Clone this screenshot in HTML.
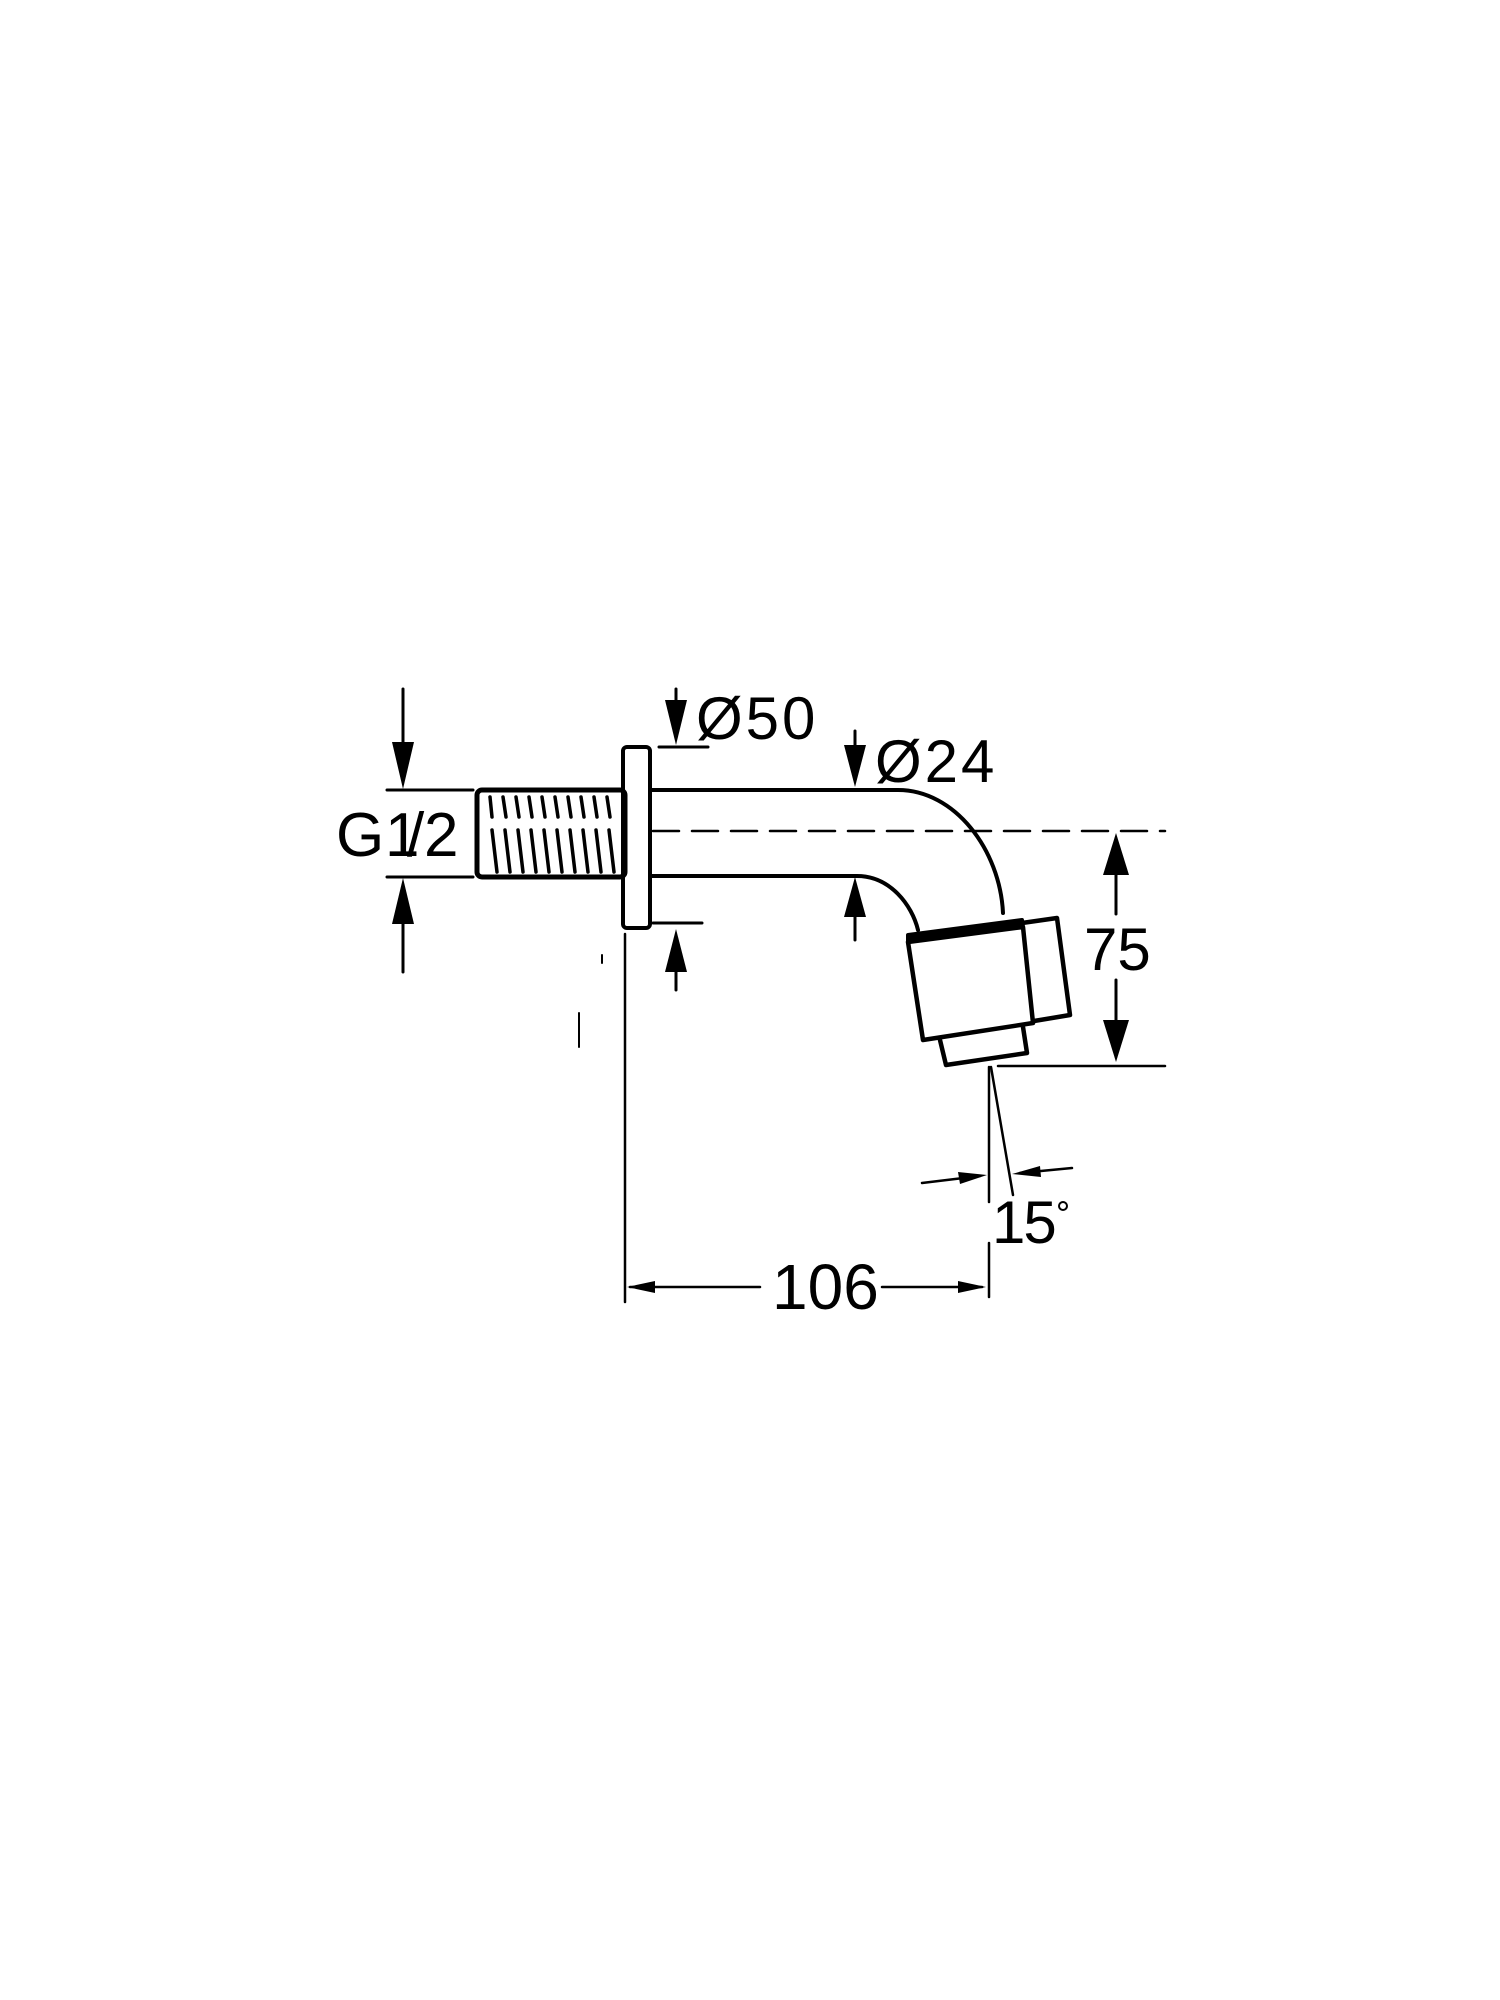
<!DOCTYPE html>
<html><head><meta charset="utf-8"><style>
html,body{margin:0;padding:0;background:#fff;}
svg{display:block;}
text{font-family:"Liberation Sans",sans-serif;fill:#000;}
</style></head><body>
<svg width="1500" height="2000" viewBox="0 0 1500 2000" xmlns="http://www.w3.org/2000/svg">
<g stroke="#000" fill="none" stroke-linecap="round" stroke-linejoin="round">
  <line x1="403" y1="689" x2="403" y2="760" stroke-width="3"/>
  <line x1="403" y1="905" x2="403" y2="972" stroke-width="3"/>
  <line x1="387" y1="790" x2="473" y2="790" stroke-width="3"/>
  <line x1="387" y1="877" x2="473" y2="877" stroke-width="3"/>
  <rect x="477" y="790" width="148" height="87" rx="5" stroke-width="5"/>
  <g stroke-width="3.5">
    <line x1="490" y1="797" x2="492" y2="817"/><line x1="503" y1="797" x2="506" y2="817"/>
    <line x1="516" y1="797" x2="519" y2="817"/><line x1="529" y1="797" x2="532" y2="817"/>
    <line x1="542" y1="797" x2="545" y2="817"/><line x1="555" y1="797" x2="558" y2="817"/>
    <line x1="568" y1="797" x2="571" y2="817"/><line x1="581" y1="797" x2="584" y2="817"/>
    <line x1="594" y1="797" x2="597" y2="817"/><line x1="607" y1="797" x2="610" y2="817"/>
    <line x1="492" y1="830" x2="497" y2="872"/><line x1="505" y1="830" x2="510" y2="872"/>
    <line x1="518" y1="830" x2="523" y2="872"/><line x1="531" y1="830" x2="536" y2="872"/>
    <line x1="544" y1="830" x2="549" y2="872"/><line x1="557" y1="830" x2="562" y2="872"/>
    <line x1="570" y1="830" x2="575" y2="872"/><line x1="583" y1="830" x2="588" y2="872"/>
    <line x1="596" y1="830" x2="601" y2="872"/><line x1="609" y1="830" x2="614" y2="872"/>
  </g>
  <rect x="623" y="747" width="27" height="181" rx="4" stroke-width="4"/>
  <path d="M650 790 L898 790 C955 790 1000 850 1003 913" stroke-width="4"/>
  <path d="M650 876 L857 876 C890 876 912 905 918 930" stroke-width="4"/>
  <line x1="653" y1="831" x2="1165" y2="831" stroke-width="2.5" stroke-dasharray="26,13"/>
  <path d="M908 935 L1022 920 L1023 927 L908 943 Z" stroke-width="4" fill="#000"/>
  <path d="M908 942 L1023 927 L1033 1023 L923 1040 Z" stroke-width="4.5" fill="#fff"/>
  <path d="M1022 923 L1057 918 L1070 1015 L1034 1021" stroke-width="4.5"/>
  <path d="M940 1040 L946 1065 L1027 1053 L1023 1027" stroke-width="4.5"/>
  <line x1="676" y1="689" x2="676" y2="710" stroke-width="3"/>
  <line x1="659" y1="747" x2="708" y2="747" stroke-width="3"/>
  <line x1="653" y1="923" x2="702" y2="923" stroke-width="3"/>
  <line x1="676" y1="960" x2="676" y2="990" stroke-width="3"/>
  <line x1="855" y1="731" x2="855" y2="755" stroke-width="3"/>
  <line x1="855" y1="905" x2="855" y2="940" stroke-width="3"/>
  <line x1="998" y1="1066" x2="1165" y2="1066" stroke-width="2.5"/>
  <line x1="1116" y1="860" x2="1116" y2="914" stroke-width="3"/>
  <line x1="1116" y1="980" x2="1116" y2="1032" stroke-width="3"/>
  <line x1="625" y1="934" x2="625" y2="1302" stroke-width="2.5"/>
  <line x1="989" y1="1067" x2="989" y2="1202" stroke-width="2.5"/>
  <line x1="989" y1="1243" x2="989" y2="1297" stroke-width="2.5"/>
  <line x1="991" y1="1067" x2="1013" y2="1195" stroke-width="2.5"/>
  <line x1="602" y1="955" x2="602" y2="963" stroke-width="2"/>
  <line x1="579" y1="1013" x2="579" y2="1047" stroke-width="2"/>
  <line x1="922" y1="1183" x2="980" y2="1176" stroke-width="2.5"/>
  <line x1="1072" y1="1168" x2="1020" y2="1173" stroke-width="2.5"/>
  <line x1="630" y1="1287" x2="760" y2="1287" stroke-width="2.5"/>
  <line x1="882" y1="1287" x2="982" y2="1287" stroke-width="2.5"/>
</g>
<g fill="#000">
  <polygon points="403,789 392,742 414,742"/>
  <polygon points="403,878 392,924 414,924"/>
  <polygon points="676,745 665,700 687,700"/>
  <polygon points="676,929 665,972 687,972"/>
  <polygon points="855,787 844,745 866,745"/>
  <polygon points="855,877 844,917 866,917"/>
  <polygon points="1116,833 1103,875 1129,875"/>
  <polygon points="1116,1062 1103,1020 1129,1020"/>
  <polygon points="987,1175 958,1172 960,1184"/>
  <polygon points="1012,1174 1040,1166 1041,1177"/>
  <polygon points="627,1287 655,1281 655,1293"/>
  <polygon points="986,1287 958,1281 958,1293"/>
  <circle cx="1063" cy="1206" r="4" fill="none" stroke="#000" stroke-width="2"/>
</g>
<text x="336" y="856" font-size="62">G</text>
<text x="385" y="856" font-size="62">1</text>
<text x="407" y="856" font-size="62">/</text>
<text x="424" y="856" font-size="62">2</text>
<text x="696" y="739" font-size="60" letter-spacing="3">Ø50</text>
<text x="875" y="782" font-size="60" letter-spacing="3">Ø24</text>
<text x="1084" y="970" font-size="60">75</text>
<text x="992" y="1243" font-size="60" letter-spacing="-2">15</text>
<text x="772" y="1309" font-size="64">106</text>
</svg>
</body></html>
